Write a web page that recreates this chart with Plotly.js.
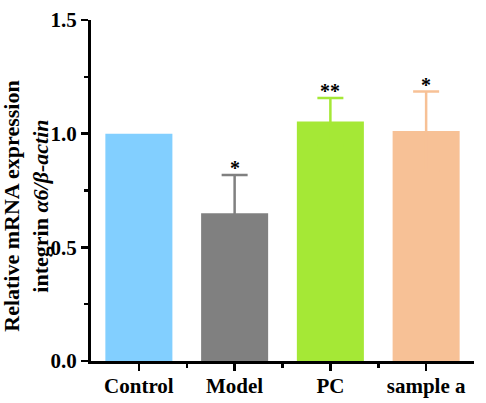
<!DOCTYPE html>
<html>
<head>
<meta charset="utf-8">
<script src="https://cdn.plot.ly/plotly-3.0.1.min.js"></script>
<style>html,body{margin:0;padding:0;background:#fff;}#chart{width:486px;height:403px;}</style>
</head>
<body>
<div id="chart"></div>
<script>
const categories = ["Control", "Model", "PC", "sample a"];
const means = [1.0, 0.65, 1.053, 1.012];
const errorsUp = [null, 0.168, 0.104, 0.173];
const stars = ["", "*", "**", "*"];
const yTickVals = [0, 0.5, 1.0, 1.5];
const yTickText = ["0.0", "0.5", "1.0", "1.5"];

const barColors = ["#82CFFF", "#808080", "#A5E836", "#F7C196"];
const FONT = "'Liberation Serif', 'Times New Roman', serif";

const traces = categories.map((c, i) => ({
  type: "bar",
  x: [i],
  y: [means[i]],
  width: 0.7,
  marker: { color: barColors[i], line: { width: 0 } },
  error_y: {
    type: "data",
    symmetric: true,
    array: [errorsUp[i]],
    color: barColors[i],
    thickness: 2.5,
    width: 13,
    visible: errorsUp[i] !== null
  },
  hoverinfo: "none",
  showlegend: false
}));

const annotations = categories.map((c, i) => ({
  x: i,
  y: means[i] + (errorsUp[i] || 0),
  xref: "x",
  yref: "y",
  text: "<b>" + stars[i] + "</b>",
  showarrow: false,
  yanchor: "bottom",
  yshift: -6,
  font: { family: FONT, size: 20, color: "#000" }
})).filter((a, i) => stars[i] !== "");

annotations.push({
  xref: "paper", yref: "paper",
  x: -0.17, y: 0.455,
  xanchor: "center", yanchor: "middle",
  textangle: -90,
  showarrow: false,
  text: "<b>Relative mRNA expression<br>integrin <i>α6/β-actin</i></b>",
  font: { family: FONT, size: 22, color: "#000" }
});

const layout = {
  width: 486,
  height: 403,
  margin: { l: 91, r: 12, t: 20, b: 42 },
  paper_bgcolor: "#fff",
  plot_bgcolor: "#fff",
  barmode: "overlay",
  font: { family: FONT, size: 21, color: "#000" },
  xaxis: {
    type: "linear",
    range: [-0.5, 3.5],
    tickmode: "array",
    tickvals: categories.map((c, i) => i),
    ticktext: categories.map(c => "<b>" + c + "</b>"),
    ticks: "outside",
    ticklen: 7,
    tickwidth: 2.5,
    tickcolor: "#000",
    ticklabelstandoff: -3,
    showline: true,
    linecolor: "#000",
    linewidth: 3,
    showgrid: false,
    zeroline: false,
    tickfont: { family: FONT, size: 21, color: "#000" },
    minor: { tickmode: "array", tickvals: [0.5, 1.5, 2.5], ticks: "outside", ticklen: 4, tickwidth: 2.5, tickcolor: "#000", showgrid: false },
    fixedrange: true
  },
  yaxis: {
    range: [0, 1.5],
    tickmode: "array",
    tickvals: yTickVals,
    ticktext: yTickText.map(t => "<b>" + t + "</b>"),
    ticks: "outside",
    ticklen: 7,
    tickwidth: 2.5,
    tickcolor: "#000",
    showline: true,
    linecolor: "#000",
    linewidth: 3,
    showgrid: false,
    zeroline: false,
    tickfont: { family: FONT, size: 21, color: "#000" },
    minor: { tickmode: "array", tickvals: [0.25, 0.75, 1.25], ticks: "outside", ticklen: 4, tickwidth: 2.5, tickcolor: "#000", showgrid: false },
    fixedrange: true
  },
  annotations: annotations
};

Plotly.newPlot("chart", traces, layout, { displayModeBar: false, staticPlot: true });
</script>
</body>
</html>
